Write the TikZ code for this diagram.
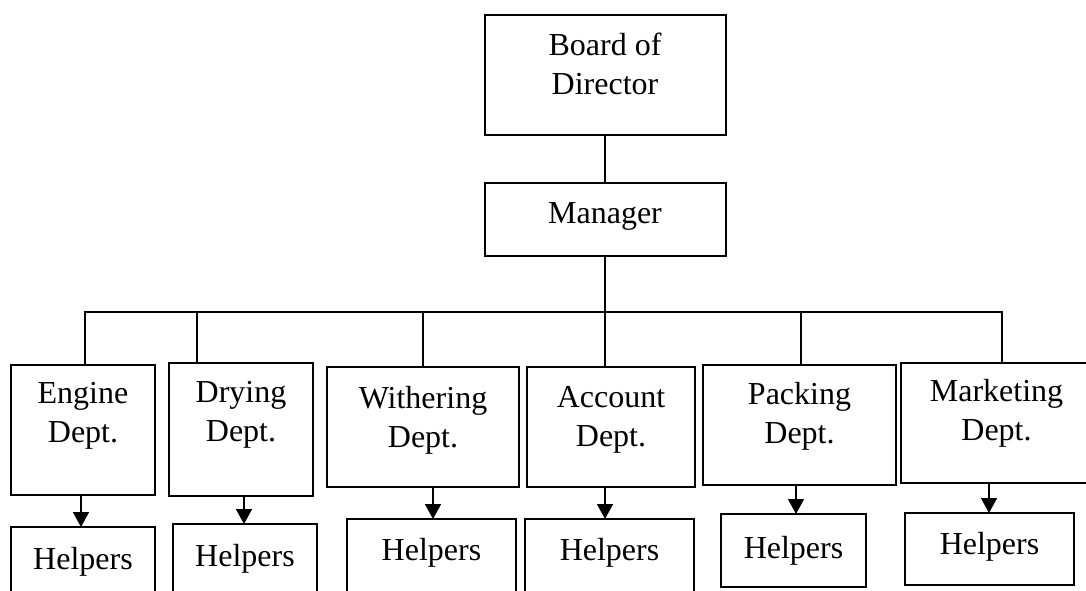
\documentclass[tikz,border=0pt]{standalone}
\usepackage{fontspec}
\setmainfont{Liberation Serif}
\usetikzlibrary{arrows.meta}
\begin{document}
\begin{tikzpicture}[x=1pt,y=-1pt,
  box/.style={draw,line width=1.6pt,inner sep=0pt,outer sep=0pt},
  txt/.style={anchor=north,inner sep=0pt,align=center,font=\fontsize{32}{39}\selectfont},
  link/.style={line width=1.6pt},
  arr/.style={line width=1.6pt,-{Triangle[length=15pt,width=16pt]}}]
\useasboundingbox (0,0) rectangle (1086,590);
\clip (0,0) rectangle (1086,590);
% boxes
\node[box,minimum width=241pt,minimum height=120pt] (board) at (605.5,75) {};
\node[box,minimum width=241pt,minimum height=73pt] (man) at (605.5,219.5) {};
\node[box,minimum width=144pt,minimum height=130pt] (eng) at (83,430) {};
\node[box,minimum width=144pt,minimum height=133pt] (dry) at (241,429.5) {};
\node[box,minimum width=192pt,minimum height=120pt] (wit) at (423,427) {};
\node[box,minimum width=168pt,minimum height=120pt] (acc) at (611,427) {};
\node[box,minimum width=193pt,minimum height=120pt] (pac) at (799.5,425) {};
\node[box,minimum width=191pt,minimum height=120pt] (mar) at (996.5,423) {};
\node[box,minimum width=144pt,minimum height=73pt] (heng) at (83,563.5) {};
\node[box,minimum width=144pt,minimum height=76pt] (hdry) at (245,562) {};
\node[box,minimum width=169pt,minimum height=81pt] (hwit) at (431.5,559.5) {};
\node[box,minimum width=169pt,minimum height=81pt] (hacc) at (609.5,559.5) {};
\node[box,minimum width=145pt,minimum height=73pt] (hpac) at (793.5,550.5) {};
\node[box,minimum width=169pt,minimum height=72pt] (hmar) at (989.5,549) {};
% texts
\node[txt] (tboard) at (605,33) {Board of\\Director};
\node[txt] (tman) at (605,202) {Manager};
\node[txt] (teng) at (83,382) {Engine\\Dept.};
\node[txt] (tdry) at (241,381) {Drying\\Dept.};
\node[txt] (twit) at (423,386) {Withering\\Dept.};
\node[txt] (tacc) at (611,386) {Account\\Dept.};
\node[txt] (tpac) at (799.5,382) {Packing\\Dept.};
\node[txt] (tmar) at (996.5,379) {Marketing\\Dept.};
\node[txt] (theng) at (83,547) {Helpers};
\node[txt] (thdry) at (245,544) {Helpers};
\node[txt] (thwit) at (431.5,538) {Helpers};
\node[txt] (thacc) at (609.5,538) {Helpers};
\node[txt] (thpac) at (793.5,536) {Helpers};
\node[txt] (thmar) at (989.5,532) {Helpers};
% bus
\coordinate (bl) at (85,312);
\coordinate (b2) at (197,312);
\coordinate (b3) at (423,312);
\coordinate (b4) at (605,312);
\coordinate (b5) at (801,312);
\coordinate (br) at (1002,312);
\draw[link] ([xshift=-0.5pt]board.south) -- ([xshift=-0.5pt]man.north);
\draw[link] ([xshift=-0.5pt]man.south) -- (b4);
\draw[link] ([xshift=-0.8pt]bl) -- ([xshift=0.8pt]br);
\draw[link] (bl) -- (bl |- eng.north);
\draw[link] (b2) -- (b2 |- dry.north);
\draw[link] (b3) -- (b3 |- wit.north);
\draw[link] (b4) -- (b4 |- acc.north);
\draw[link] (b5) -- (b5 |- pac.north);
\draw[link] (br) -- (br |- mar.north);
% arrows
\draw[arr] ([xshift=-2pt]eng.south) -- ([xshift=-2pt]heng.north);
\draw[arr] ([xshift=3pt]dry.south) -- ([xshift=-1pt]hdry.north);
\draw[arr] ([xshift=10pt]wit.south) -- ([xshift=1.5pt]hwit.north);
\draw[arr] ([xshift=-6pt]acc.south) -- ([xshift=-4.5pt]hacc.north);
\draw[arr] ([xshift=-3.5pt]pac.south) -- ([xshift=2.5pt]hpac.north);
\draw[arr] ([xshift=-7.5pt]mar.south) -- ([xshift=-0.5pt]hmar.north);
\end{tikzpicture}
\end{document}
